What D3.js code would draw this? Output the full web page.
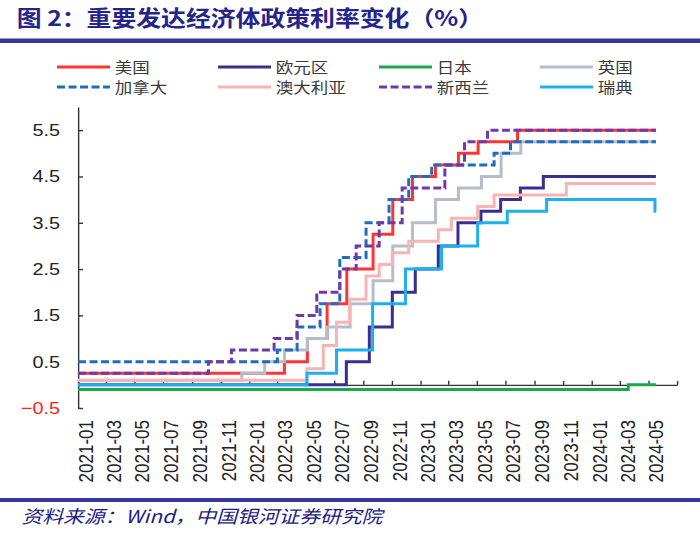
<!DOCTYPE html>
<html><head><meta charset="utf-8">
<script src="https://cdn.jsdelivr.net/npm/d3@7"></script>
<style>html,body{margin:0;padding:0;background:#fff;}svg{display:block;}</style>
</head><body><svg id="c"></svg>
<script>
// ---- data: policy-rate change points [date, rate %] ----
const usRate = [["2021-01-01",0.25],["2022-03-17",0.5],["2022-05-05",1.0],["2022-06-16",1.75],["2022-07-28",2.5],["2022-09-22",3.25],["2022-11-03",4.0],["2022-12-15",4.5],["2023-02-02",4.75],["2023-03-23",5.0],["2023-05-04",5.25],["2023-07-27",5.5]];
const euroRate = [["2021-01-01",0],["2022-07-27",0.5],["2022-09-14",1.25],["2022-11-02",2.0],["2022-12-21",2.5],["2023-02-08",3.0],["2023-03-22",3.5],["2023-05-10",3.75],["2023-06-21",4.0],["2023-08-02",4.25],["2023-09-20",4.5]];
const japanRate = [["2021-01-01",-0.1],["2024-03-19",0]];
const ukRate = [["2021-01-01",0.1],["2021-12-16",0.25],["2022-02-03",0.5],["2022-03-17",0.75],["2022-05-05",1.0],["2022-06-16",1.25],["2022-08-04",1.75],["2022-09-22",2.25],["2022-11-03",3.0],["2022-12-15",3.5],["2023-02-02",4.0],["2023-03-23",4.25],["2023-05-11",4.5],["2023-06-22",5.0],["2023-08-03",5.25]];
const canadaRate = [["2021-01-01",0.5],["2022-03-02",0.75],["2022-04-13",1.25],["2022-06-01",1.75],["2022-07-13",2.75],["2022-09-07",3.5],["2022-10-26",4.0],["2022-12-07",4.5],["2023-01-25",4.75],["2023-06-07",5.0],["2023-07-12",5.25]];
const australiaRate = [["2021-01-01",0.1],["2022-05-04",0.35],["2022-06-08",0.85],["2022-07-06",1.35],["2022-08-03",1.85],["2022-09-07",2.35],["2022-10-05",2.6],["2022-11-02",2.85],["2022-12-07",3.1],["2023-02-08",3.35],["2023-03-08",3.6],["2023-05-03",3.85],["2023-06-07",4.1],["2023-11-08",4.35]];
const nzRate = [["2021-01-01",0.25],["2021-10-06",0.5],["2021-11-24",0.75],["2022-02-23",1.0],["2022-04-13",1.5],["2022-05-25",2.0],["2022-07-13",2.5],["2022-08-17",3.0],["2022-10-05",3.5],["2022-11-23",4.25],["2023-02-22",4.75],["2023-04-05",5.25],["2023-05-24",5.5]];
const swedenRate = [["2021-01-01",0],["2022-05-04",0.25],["2022-07-06",0.75],["2022-09-21",1.75],["2022-11-30",2.5],["2023-02-15",3.0],["2023-05-03",3.5],["2023-07-05",3.75],["2023-09-27",4.0],["2024-05-15",3.75]];
const seriesNames = ["美国","欧元区","日本","英国","加拿大","澳大利亚","新西兰","瑞典"];
const lastDate = "2024-05-17";
const xTickLabels = ["2021-01","2021-03","2021-05","2021-07","2021-09","2021-11","2022-01","2022-03","2022-05","2022-07","2022-09","2022-11","2023-01","2023-03","2023-05","2023-07","2023-09","2023-11","2024-01","2024-03","2024-05"];
const xAxisEnd = "2024-07";
const yTickValues = [-0.5,0.5,1.5,2.5,3.5,4.5,5.5];
const yDomain = [-0.5, 6];

// ---- styles ----
const seriesData = [usRate, euroRate, japanRate, ukRate, canadaRate, australiaRate, nzRate, swedenRate];
const seriesStyle = [
  {color:"#ff3535", dash:null},
  {color:"#3b2d92", dash:null},
  {color:"#1aa84c", dash:null},
  {color:"#b5bccb", dash:null},
  {color:"#1f6dbf", dash:"8,3.5"},
  {color:"#f8b3b3", dash:null},
  {color:"#7038a8", dash:"8,3.5"},
  {color:"#1eb0ea", dash:null}
];

const VW = 600, VH = 544; // design space, stretched horizontally to 700px
const svg = d3.select("#c").attr("width",700).attr("height",544)
  .attr("viewBox",`0 0 ${VW} ${VH}`).attr("preserveAspectRatio","none");

const parseDay = d3.timeParse("%Y-%m-%d");
const parseMonth = d3.timeParse("%Y-%m");

const x = d3.scaleTime().domain([parseMonth(xTickLabels[0]), parseMonth(xAxisEnd)]).range([66.9, 580.3]);
const y = d3.scaleLinear().domain(yDomain).range([408, 107]);

// title
svg.append("text").attr("x",14.3).attr("y",26)
  .attr("font-family","'Noto Sans CJK SC',sans-serif").attr("font-weight","700")
  .attr("font-size",21.3).attr("fill","#24248a")
  .text("图 2：重要发达经济体政策利率变化（%）");
svg.append("rect").attr("x",0).attr("y",38.5).attr("width",VW).attr("height",4.5).attr("fill","#35359c");
svg.append("rect").attr("x",0).attr("y",498).attr("width",VW).attr("height",4).attr("fill","#35359c");
svg.append("text").attr("x",18.5).attr("y",523.5)
  .attr("font-family","'Noto Sans CJK SC',sans-serif").attr("font-style","italic")
  .attr("font-size",17.8).attr("fill","#1c1c86")
  .text("资料来源：Wind，中国银河证券研究院");

// legend
const leg = svg.append("g");
seriesNames.forEach((name,i)=>{
  const col = i%4, row = Math.floor(i/4);
  const lx = 48.9 + col*138, ly = 67 + row*20;
  const g = leg.append("g");
  g.append("line").attr("x1",lx).attr("x2",lx+45.4).attr("y1",ly).attr("y2",ly)
    .attr("stroke",seriesStyle[i].color).attr("stroke-width",3)
    .attr("stroke-dasharray",seriesStyle[i].dash).attr("vector-effect","non-scaling-stroke");
  g.append("text").attr("x",lx+49.5).attr("y",ly).attr("dy","0.37em")
    .attr("font-family","'Noto Sans CJK SC',sans-serif").attr("font-size",15)
    .attr("fill","#3a3a3a").text(name);
});

// y axis
const yAxis = d3.axisLeft(y).tickValues(yTickValues).tickSizeInner(-4.3).tickSizeOuter(0).tickPadding(15.5)
  .tickFormat(d3.format(".1f"));
const gy = svg.append("g").attr("transform",`translate(${x.range()[0]},0)`).call(yAxis);
gy.selectAll("path,line").attr("stroke","#333").attr("stroke-width",1.4).attr("vector-effect","non-scaling-stroke");
gy.selectAll("text").attr("font-family","'Liberation Sans',Arial,sans-serif").attr("font-size",17)
  .attr("fill",d=>d<0?"#ff2020":"#222");

// x axis line with inward ticks
const xTicks = xTickLabels.map(parseMonth).concat([parseMonth(xAxisEnd)]);
const xAxis = d3.axisBottom(x).tickValues(xTicks).tickSizeInner(-4).tickSizeOuter(0).tickFormat("");
const gx = svg.append("g").attr("transform",`translate(0,${y(0)})`).call(xAxis);
gx.selectAll("path,line").attr("stroke","#333").attr("stroke-width",1.4).attr("vector-effect","non-scaling-stroke");

// x labels (rotated)
svg.append("g").selectAll("text").data(xTickLabels).join("text")
  .attr("transform",d=>`translate(${x(parseMonth(d))+6.9},420) rotate(-90)`)
  .attr("text-anchor","end").attr("dy","0.35em")
  .attr("font-family","'Liberation Sans',Arial,sans-serif").attr("font-size",17).attr("fill","#222")
  .text(d=>d);

// series
const line = d3.line().x(d=>x(d.date)).y(d=>y(d.v)).curve(d3.curveStepAfter);
seriesData.forEach((rows,i)=>{
  const pts = rows.map(([d,v])=>({date:parseDay(d), v}));
  pts.push({date:parseDay(lastDate), v:pts[pts.length-1].v});
  svg.append("path").datum(pts).attr("d",line).attr("fill","none")
    .attr("stroke",seriesStyle[i].color).attr("stroke-width",3)
    .attr("stroke-dasharray",seriesStyle[i].dash)
    .attr("vector-effect","non-scaling-stroke");
});
</script></body></html>
